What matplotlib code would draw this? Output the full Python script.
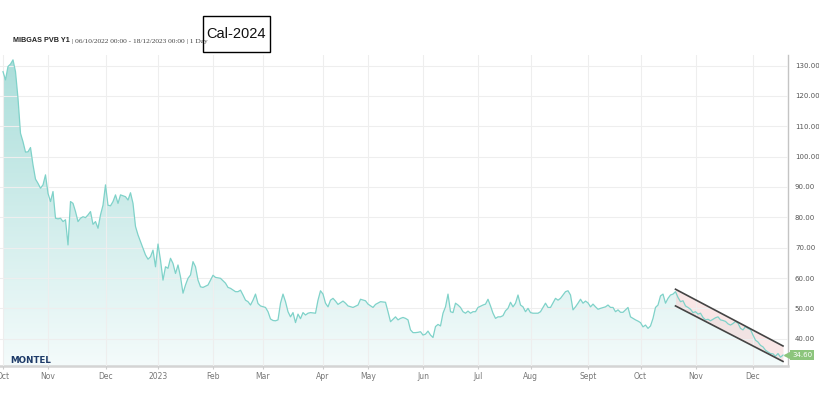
import matplotlib
matplotlib.use("Agg")
import numpy as np
import matplotlib.pyplot as plt
from matplotlib.patches import Rectangle
from matplotlib.colors import LinearSegmentedColormap
from matplotlib.transforms import blended_transform_factory

# trading-day number since 06/10/2022 and MIBGAS PVB Y1 settlement (EUR/MWh)
day = [0, 1, 2, 3, 4, 5, 6, 7, 8, 9, 10, 11, 12, 13, 14, 15, 16, 17, 18, 19,
       20, 21, 22, 23, 24, 25, 26, 27, 28, 29, 30, 31, 32, 33, 34, 35, 36, 37, 38, 39,
       40, 41, 42, 43, 44, 45, 46, 47, 48, 49, 50, 51, 52, 53, 54, 55, 56, 57, 58, 59,
       60, 61, 62, 63, 64, 65, 66, 67, 68, 69, 70, 71, 72, 73, 74, 75, 76, 77, 78, 79,
       80, 82, 83, 84, 85, 87, 89, 90, 91, 93, 94, 95, 96, 97, 98, 99,
       100, 101, 102, 103, 105, 106, 107, 108, 109, 110, 111, 112, 113, 114, 115, 116, 117, 118, 119,
       120, 121, 122, 123, 125, 126, 127, 128, 129, 130, 131, 132, 133, 134, 136, 137, 138,
       140, 142, 143, 145, 146, 148, 149, 151, 153, 154, 155, 157, 158, 159,
       160, 161, 162, 163, 164, 165, 166, 167, 168, 169, 170, 171, 172, 173, 174, 175, 176, 177, 178, 179,
       180, 181, 182, 183, 184, 185, 186, 187, 188, 189, 190, 192, 193, 194, 195, 196, 197, 198, 199,
       200, 201, 202, 203, 204, 205, 206, 207, 208, 209, 210, 211, 212, 214, 215, 217, 218, 219,
       221, 222, 223, 225, 226, 227, 228, 229, 230, 231, 232, 233, 234, 235, 236, 237, 238, 239,
       241, 242, 243, 244, 245, 246, 247, 248, 250, 251, 252, 253, 254, 255, 256, 257, 258, 259,
       260, 261, 262, 263, 264, 265, 266, 267, 268, 269, 270, 271, 272, 273, 274, 275, 276, 277, 278, 279,
       280, 281, 282, 283, 284, 285, 286, 287, 288, 289, 290, 291, 292, 293, 294, 295, 296, 297, 298, 299,
       300, 301, 302, 303, 304, 305, 306, 307, 308, 309, 310, 311, 312]
price = [128.0, 125.3, 129.7, 130.5, 131.9, 128.0, 119.2, 107.7, 104.9, 101.5, 101.6, 103.0, 97.3, 92.6, 91.2, 89.6, 90.7, 94.0, 87.9, 85.2,
         88.5, 79.7, 79.5, 79.7, 78.6, 79.2, 70.9, 85.2, 84.6, 81.9, 78.6, 79.7, 80.2, 79.9, 80.8, 81.9, 77.7, 78.6, 76.4, 80.8,
         84.0, 90.7, 84.0, 83.8, 85.2, 87.4, 84.6, 87.4, 87.1, 86.8, 85.7, 88.1, 84.6, 77.0, 74.2, 72.0, 69.8, 67.6, 66.2, 67.0,
         69.2, 63.7, 71.2, 65.9, 59.3, 63.7, 63.2, 66.5, 64.8, 61.5, 64.3, 60.4, 55.0, 57.7, 59.9, 61.0, 65.4, 63.7, 59.3, 57.1,
         56.9, 57.7, 59.3, 60.9, 60.2, 59.9, 58.3, 56.9, 56.6, 55.5, 55.5, 56.0, 54.4, 52.7, 52.2, 51.1,
         52.7, 54.7, 51.6, 50.8, 50.3, 48.9, 46.5, 46.0, 45.9, 46.2, 51.7, 54.7, 52.2, 48.9, 47.2, 48.6, 45.3, 48.1, 46.6,
         48.6, 47.8, 48.4, 48.6, 48.4, 52.7, 55.8, 54.7, 51.7, 50.5, 52.7, 53.3, 52.4, 51.3, 52.4, 51.7, 50.8,
         50.3, 51.1, 53.0, 52.5, 51.4, 50.3, 51.3, 52.2, 52.0, 48.9, 45.6, 47.2, 46.2, 46.7,
         47.0, 46.7, 46.2, 42.9, 42.0, 42.0, 42.1, 42.3, 41.2, 41.5, 42.5, 41.2, 40.4, 44.0, 44.7, 44.2, 48.4, 50.5, 54.7, 48.9,
         48.6, 51.7, 51.1, 50.3, 48.9, 48.4, 49.1, 48.4, 48.9, 48.9, 50.3, 51.1, 51.4, 53.0, 50.8, 48.4, 46.7, 47.2, 47.2,
         47.6, 49.2, 50.0, 52.0, 50.5, 51.7, 54.4, 51.1, 50.5, 48.9, 50.0, 48.6, 48.4, 48.4, 48.9, 51.7, 50.3, 50.3,
         53.3, 52.7, 53.3, 55.5, 55.8, 54.4, 49.5, 50.5, 51.7, 53.0, 51.7, 52.4, 51.8, 50.5, 51.4, 50.5, 49.7, 50.0,
         50.5, 51.1, 50.3, 50.3, 48.9, 49.5, 48.7, 48.7, 50.3, 47.2, 46.7, 46.2, 45.8, 45.3, 43.9, 44.5, 43.4, 44.2,
         46.7, 50.3, 51.1, 54.1, 54.7, 51.7, 53.3, 54.4, 54.7, 55.5, 53.6, 52.2, 52.5, 50.8, 50.3, 49.7, 48.6, 48.9, 48.1, 48.4,
         47.0, 46.2, 46.4, 45.9, 46.4, 46.9, 47.2, 46.2, 46.0, 45.7, 44.9, 44.5, 45.0, 45.7, 45.1, 43.4, 42.9, 44.0, 43.4, 43.0,
         41.2, 39.5, 38.9, 37.8, 37.3, 36.2, 35.6, 35.1, 35.0, 34.2, 35.1, 33.9, 34.6]

month_ticks = [0, 18, 41, 62, 84, 104, 128, 146, 168, 190, 211, 234, 255, 277, 300]
month_labels = ["Oct", "Nov", "Dec", "2023", "Feb", "Mar", "Apr", "May", "Jun",
                "Jul", "Aug", "Sept", "Oct", "Nov", "Dec"]
y_ticks = [40, 50, 60, 70, 80, 90, 100, 110, 120, 130]

# hand-drawn downward channel
channel_day = [269, 312]
channel_upper = [56.3, 37.6]
channel_lower = [50.8, 32.5]
last_price = 34.60

W, H = 819, 399
fig = plt.figure(figsize=(W / 100, H / 100), dpi=100)
ax = fig.add_axes([0, 33 / H, 788 / W, 311 / H])
x0, x1, y0, y1 = -1.2, 314, 31.0, 133.5
ax.set_xlim(x0, x1)
ax.set_ylim(y0, y1)

# gradient area under the line
area = ax.fill_between(day, price, y0, color="none", lw=0)
grad = np.linspace(0, 1, 256).reshape(-1, 1)
cmap = LinearSegmentedColormap.from_list("teal", ["#f4fbfb", "#aadeda"])
im = ax.imshow(grad, extent=[x0, x1, y0, y1], origin="lower", aspect="auto",
               cmap=cmap, zorder=1, interpolation="bilinear")
im.set_clip_path(area.get_paths()[0], transform=ax.transData)

ax.fill_between(channel_day, channel_lower, channel_upper, color="#f6d6d6",
                alpha=0.6, lw=0, zorder=2)
ax.plot(day, price, color="#7fd2c9", lw=0.9, zorder=3)
ax.plot(channel_day, channel_upper, color="#444444", lw=1.2, zorder=4)
ax.plot(channel_day, channel_lower, color="#444444", lw=1.2, zorder=4)

# axes styling
for s in ("top", "left"):
    ax.spines[s].set_visible(False)
ax.spines["right"].set_color("#c4c4c4")
ax.spines["right"].set_linewidth(1.0)
ax.spines["bottom"].set_color("#d4d4d4")
ax.spines["bottom"].set_linewidth(1.8)
ax.grid(color="#eeeeee", lw=0.8)
ax.set_axisbelow(False)

ax.yaxis.tick_right()
ax.set_yticks(y_ticks, [f"{v:.2f}" for v in y_ticks])
ax.tick_params(axis="y", length=0, pad=5, labelsize=5, labelcolor="#555555")
ax.set_xticks(month_ticks, month_labels)
ax.tick_params(axis="x", length=2.5, width=0.8, color="#cccccc", pad=1.5,
               labelsize=5.5, labelcolor="#777777")

# last value tag
tr = blended_transform_factory(ax.transAxes, ax.transData)
ax.text(1 + 4 / 788, last_price, f"{last_price:.2f}", transform=tr, fontsize=5,
        color="white", ha="left", va="center", zorder=10,
        bbox=dict(boxstyle="square,pad=0.3", fc="#8cc57c", ec="none"))
ax.plot([1 - 1 / 788], [last_price], transform=tr, marker="<", ms=5,
        color="#8cc57c", clip_on=False, zorder=10)

# header texts
t1 = fig.text(13 / W, 1 - 41 / H, "MIBGAS PVB Y1", fontsize=5.2, weight="bold",
              family="Liberation Sans", color="#222222", va="center")
ax.annotate(" | 06/10/2022 00:00 - 18/12/2023 00:00 | 1 Day", xy=(1, 0.5),
            xycoords=t1, va="center", ha="left", fontsize=5.3,
            family="Liberation Serif", color="#444444")

fig.patches.append(Rectangle((203 / W, 1 - 52 / H), 67 / W, 36 / H,
                             transform=fig.transFigure, fill=False,
                             ec="black", lw=1.0))
fig.text(236 / W, 1 - 33.5 / H, "Cal-2024", fontsize=10.5,
         family="Liberation Sans", ha="center", va="center", color="#111111")

fig.text(10 / W, 1 - 360.5 / H, "MONTEL", fontsize=6.3, weight="heavy",
         color="#1d3a68", va="center")

fig.savefig("out.png", dpi=100, facecolor="white")
